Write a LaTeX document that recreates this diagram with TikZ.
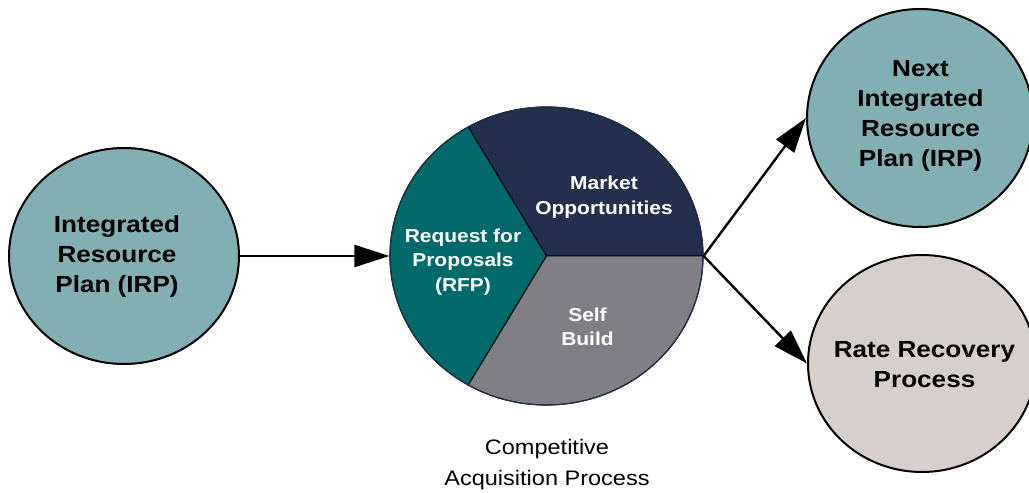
\documentclass[tikz,border=0pt]{standalone}
\usepackage{fontspec}
\setmainfont{Liberation Sans}[FakeStretch=1.12]
\usetikzlibrary{shapes.geometric,arrows.meta}
\definecolor{irpteal}{RGB}{130,175,180}
\definecolor{marketnavy}{RGB}{34,48,78}
\definecolor{rfpteal}{RGB}{0,105,105}
\definecolor{selfgrey}{RGB}{128,127,133}
\definecolor{rategrey}{RGB}{215,207,205}
\tikzset{
  bubble/.style={ellipse, draw=black, line width=2pt, inner sep=0pt},
  bubbletext/.style={align=center, text=black, font=\bfseries\fontsize{23.3}{30}\selectfont},
  slicetext/.style={align=center, text=white, font=\bfseries\fontsize{18.7}{24.5}\selectfont},
  flow/.style={line width=2.4pt, -{Triangle[length=35pt,width=22pt]}}
}
\begin{document}
\begin{tikzpicture}[x=1pt,y=1pt]
    \useasboundingbox (0,0) rectangle (1029,493);
    % Draw the three slices of the middle disc
    \coordinate (pie) at (546.5,237);
    \filldraw[fill=marketnavy, draw=black, line width=1pt] (pie) -- ++(0:156.5 and 149)
        arc[start angle=0, end angle=120, x radius=156.5, y radius=149] -- cycle;
    \filldraw[fill=rfpteal, draw=black, line width=1pt] (pie) -- ++(120:156.5 and 149)
        arc[start angle=120, end angle=240, x radius=156.5, y radius=149] -- cycle;
    \filldraw[fill=selfgrey, draw=black, line width=1pt] (pie) -- ++(240:156.5 and 149)
        arc[start angle=240, end angle=360, x radius=156.5, y radius=149] -- cycle;
    \node[ellipse, draw=marketnavy, line width=1.2pt, inner sep=0pt,
        minimum width=313pt, minimum height=298pt] (cap) at (pie) {};
    \node[slicetext] (market) at (604,296) {Market\\Opportunities};
    \node[slicetext] (rfp) at (463,231) {Request for\\Proposals\\(RFP)};
    \node[slicetext] (self) at (587.5,166) {Self\\Build};

    % Draw the outer plans
    \node[bubble, fill=irpteal, minimum width=230pt, minimum height=216pt] (irp) at (124,237) {};
    \node[bubbletext] (irptext) at (117,237) {Integrated\\Resource\\Plan (IRP)};

    \node[bubble, fill=irpteal, minimum width=226pt, minimum height=218pt] (next) at (920,375) {};
    \node[bubbletext] (nexttext) at (920.5,377) {Next\\Integrated\\Resource\\Plan (IRP)};

    \node[bubble, fill=rategrey, minimum width=228pt, minimum height=217pt] (rate) at (922,129.5) {};
    \node[bubbletext] (ratetext) at (924.5,128) {Rate Recovery\\Process};

    \node[align=center, font=\fontsize{21}{31}\selectfont] (caption) at (547,28)
        {Competitive\\Acquisition Process};

    % Draw the arrows
    \draw[flow] (irp.east) -- (cap.west);
    \draw[flow] (cap.east) -- (next.west);
    \draw[flow] (cap.east) -- (rate.west);
\end{tikzpicture}
\end{document}
